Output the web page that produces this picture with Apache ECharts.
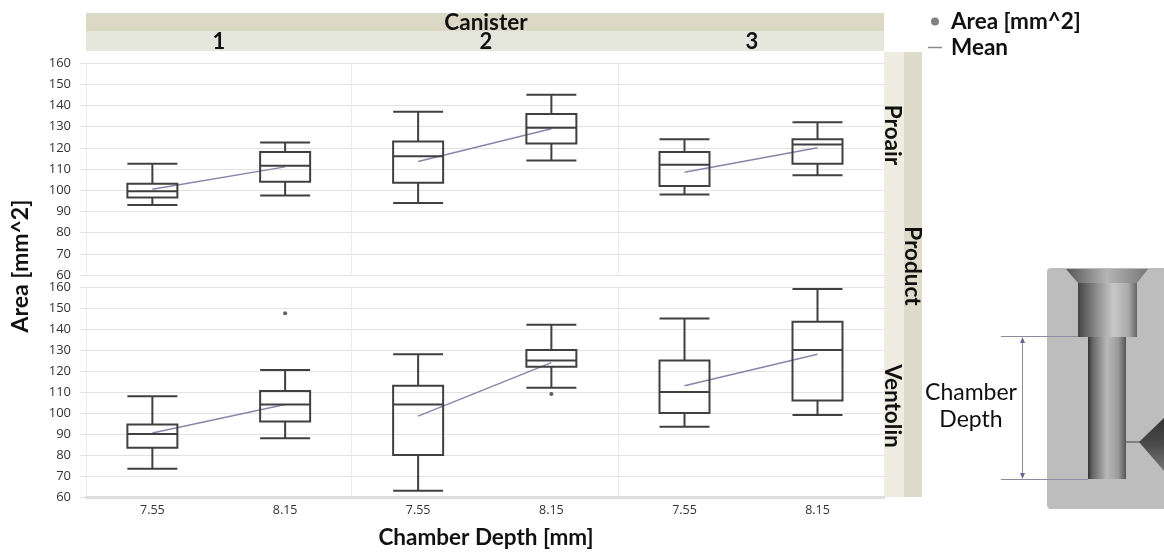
<!DOCTYPE html>
<html><head><meta charset="utf-8">
<style>html,body{margin:0;padding:0;background:#fff}#c{width:1164px;height:554px}</style>
<script src="https://cdn.jsdelivr.net/npm/echarts@6/dist/echarts.min.js"></script>
</head><body><div id="c"></div>
<script>
const depths = ['7.55','8.15'];
const canisters = ['1','2','3'];
const products = ['Proair','Ventolin'];
const yTicks = [60,70,80,90,100,110,120,130,140,150,160];
// each box: [low whisker, Q1, median, Q3, high whisker]
const proairBoxes = [
  [[93,96.5,99.5,103,112.5],[97.5,104,111.5,118,122.5]],
  [[94,103.5,116,123,137],[114,122,129.5,136,145]],
  [[98,102,112,118,124],[107,112.5,121.5,124,132]]
];
const ventolinBoxes = [
  [[73.5,83.5,90,94.5,108],[88,96,104,110.5,120.5]],
  [[63,80,104,113,128],[112,122,125,130,142]],
  [[93.5,100,110,125,145],[99,106,130,143.5,159]]
];
const proairMeans = [[100.5,111],[113.5,129],[108.5,120]];
const ventolinMeans = [[90.5,104],[98.5,124],[113,128]];
const ventolinOutliers = [[['8.15',147.5]],[['8.15',109]],[]];
const proairOutliers = [[],[],[]];

const FONT = 'Lato';
const colX = [86,351.5,618];
const colW = [265.5,266.5,266];
const rowY = [63,287];
const rowH = [212,210];
const grids=[],xAxes=[],yAxes=[],series=[];
products.forEach((p,r)=>{
  canisters.forEach((c,k)=>{
    const idx=grids.length;
    grids.push({left:colX[k],top:rowY[r],width:colW[k],height:rowH[r]});
    xAxes.push({type:'category',gridIndex:idx,data:depths,
      axisTick:{show:false},
      axisLine:{show:r===1,onZero:false,lineStyle:{color:'#dedede',width:3}},
      axisLabel:{show:r===1,fontFamily:'Open Sans',fontSize:12.5,color:'#333',margin:7}});
    yAxes.push({type:'value',gridIndex:idx,min:60,max:160,interval:10,
      axisLine:{show:true,lineStyle:{color:'#ebebee',width:1}},
      axisTick:{show:k===0,length:6,lineStyle:{color:'#e2e2e2'}},
      axisLabel:{show:k===0,fontFamily:'Open Sans',fontSize:13,color:'#333',margin:15,
        formatter:v=>yTicks.includes(v)?String(v):''},
      splitLine:{show:true,lineStyle:{color:'#e2e2e2',width:1}}});
    const boxes=(r===0?proairBoxes:ventolinBoxes)[k];
    const means=(r===0?proairMeans:ventolinMeans)[k];
    const outs=(r===0?proairOutliers:ventolinOutliers)[k];
    series.push({name:'Area [mm^2]',type:'boxplot',xAxisIndex:idx,yAxisIndex:idx,data:boxes,
      boxWidth:[50,50],silent:true,
      itemStyle:{color:'rgba(255,255,255,0)',borderColor:'#404040',borderWidth:2}});
    series.push({name:'Mean',type:'line',xAxisIndex:idx,yAxisIndex:idx,data:means,
      symbol:'none',z:1,lineStyle:{color:'#8886a8',width:1.5},itemStyle:{color:'#8886a8'}});
    series.push({name:'Area [mm^2]',type:'scatter',xAxisIndex:idx,yAxisIndex:idx,data:outs,
      symbolSize:4,itemStyle:{color:'#333'}});
  });
});

const bold={fontFamily:FONT,fontWeight:'bold',fill:'#111'};
const graphic=[
  // strips
  {type:'rect',shape:{x:86,y:13,width:798,height:18},style:{fill:'#dcd8c6'},z:0},
  {type:'rect',shape:{x:86,y:31,width:798,height:20},style:{fill:'#e6e7dc'},z:0},
  {type:'rect',shape:{x:884,y:52,width:20,height:445},style:{fill:'#efece2'},z:0},
  {type:'rect',shape:{x:904,y:52,width:18,height:445},style:{fill:'#dedbca'},z:0},
  {type:'text',x:486,y:23,style:{...bold,text:'Canister',fontSize:22.5,align:'center',verticalAlign:'middle'},z:5},
  {type:'text',x:219,y:42,style:{...bold,text:canisters[0],fontSize:22,align:'center',verticalAlign:'middle'},z:5},
  {type:'text',x:486,y:42,style:{...bold,text:canisters[1],fontSize:22,align:'center',verticalAlign:'middle'},z:5},
  {type:'text',x:752,y:42,style:{...bold,text:canisters[2],fontSize:22,align:'center',verticalAlign:'middle'},z:5},
  {type:'text',x:892,y:135,rotation:-Math.PI/2,style:{...bold,text:products[0],fontSize:22.5,align:'center',verticalAlign:'middle'},z:5},
  {type:'text',x:912,y:266,rotation:-Math.PI/2,style:{...bold,text:'Product',fontSize:22.5,align:'center',verticalAlign:'middle'},z:5},
  {type:'text',x:892,y:406,rotation:-Math.PI/2,style:{...bold,text:products[1],fontSize:22.5,align:'center',verticalAlign:'middle'},z:5},
  {type:'text',x:21,y:266,rotation:Math.PI/2,style:{...bold,text:'Area [mm^2]',fontSize:23,align:'center',verticalAlign:'middle'},z:5},
  {type:'text',x:486,y:538,style:{...bold,text:'Chamber Depth [mm]',fontSize:22.5,align:'center',verticalAlign:'middle'},z:5},
  // illustration
  {type:'rect',shape:{x:1047,y:268,width:130,height:241,r:4},style:{fill:'#bdbdbd'},z:1},
  {type:'polygon',shape:{points:[[1066,269],[1148,269],[1137,283],[1078,283]]},
    style:{fill:{type:'linear',x:0,y:0,x2:1,y2:0,colorStops:[{offset:0,color:'#555'},{offset:.5,color:'#b5b5b5'},{offset:1,color:'#777'}]}},z:2},
  {type:'rect',shape:{x:1078,y:283,width:59,height:54},
    style:{fill:{type:'linear',x:0,y:0,x2:1,y2:0,colorStops:[{offset:0,color:'#444'},{offset:.3,color:'#8a8a8a'},{offset:.6,color:'#c8c8c8'},{offset:.85,color:'#aaa'},{offset:1,color:'#666'}]}},z:2},
  {type:'rect',shape:{x:1088,y:337,width:38,height:142},
    style:{fill:{type:'linear',x:0,y:0,x2:1,y2:0,colorStops:[{offset:0,color:'#333'},{offset:.12,color:'#666'},{offset:.5,color:'#b9b9b9'},{offset:.8,color:'#999'},{offset:1,color:'#555'}]}},z:2},
  {type:'line',shape:{x1:1126,y1:442,x2:1140,y2:442},style:{stroke:'#444',lineWidth:1},z:2},
  {type:'polygon',shape:{points:[[1139,442],[1164,418],[1164,471]]},
    style:{fill:{type:'linear',x:0,y:0,x2:0,y2:1,colorStops:[{offset:0,color:'#333'},{offset:.5,color:'#4a4a4a'},{offset:1,color:'#777'}]}},z:2},
  {type:'line',shape:{x1:1001,y1:336.5,x2:1078,y2:336.5},style:{stroke:'#8c8ca0',lineWidth:1},z:3},
  {type:'line',shape:{x1:1001,y1:479.5,x2:1088,y2:479.5},style:{stroke:'#8c8ca0',lineWidth:1},z:3},
  {type:'line',shape:{x1:1022.5,y1:338,x2:1022.5,y2:478},style:{stroke:'#8a8aa8',lineWidth:1},z:3},
  {type:'polygon',shape:{points:[[1022.5,337],[1020,343],[1025,343]]},style:{fill:'#666a88'},z:3},
  {type:'polygon',shape:{points:[[1022.5,479],[1020,473],[1025,473]]},style:{fill:'#666a88'},z:3},
  {type:'text',x:971,y:393,style:{text:'Chamber',fontFamily:FONT,fontSize:23,fill:'#111',align:'center',verticalAlign:'middle'},z:5},
  {type:'text',x:971,y:420,style:{text:'Depth',fontFamily:FONT,fontSize:23,fill:'#111',align:'center',verticalAlign:'middle'},z:5}
];

const chart=echarts.init(document.getElementById('c'),null,{renderer:'canvas'});
chart.setOption({
  animation:false,backgroundColor:'#fff',
  legend:{show:true,orient:'vertical',left:923,top:5,itemGap:3,itemWidth:14,itemHeight:8,selectedMode:false,
    textStyle:{fontFamily:FONT,fontWeight:'bold',fontSize:22.5,color:'#111',padding:[0,0,0,4]},
    data:[{name:'Area [mm^2]',icon:'circle',itemStyle:{color:'#808080',borderWidth:0}},
          {name:'Mean',icon:'path://M0,0L0.01,0L0,0Z M0,3.25H14V4.75H0Z M0,8L0.01,8L0,8Z',itemStyle:{color:'#8a8a8a',borderWidth:0}}]},
  grid:grids,xAxis:xAxes,yAxis:yAxes,series,graphic
});
</script></body></html>
